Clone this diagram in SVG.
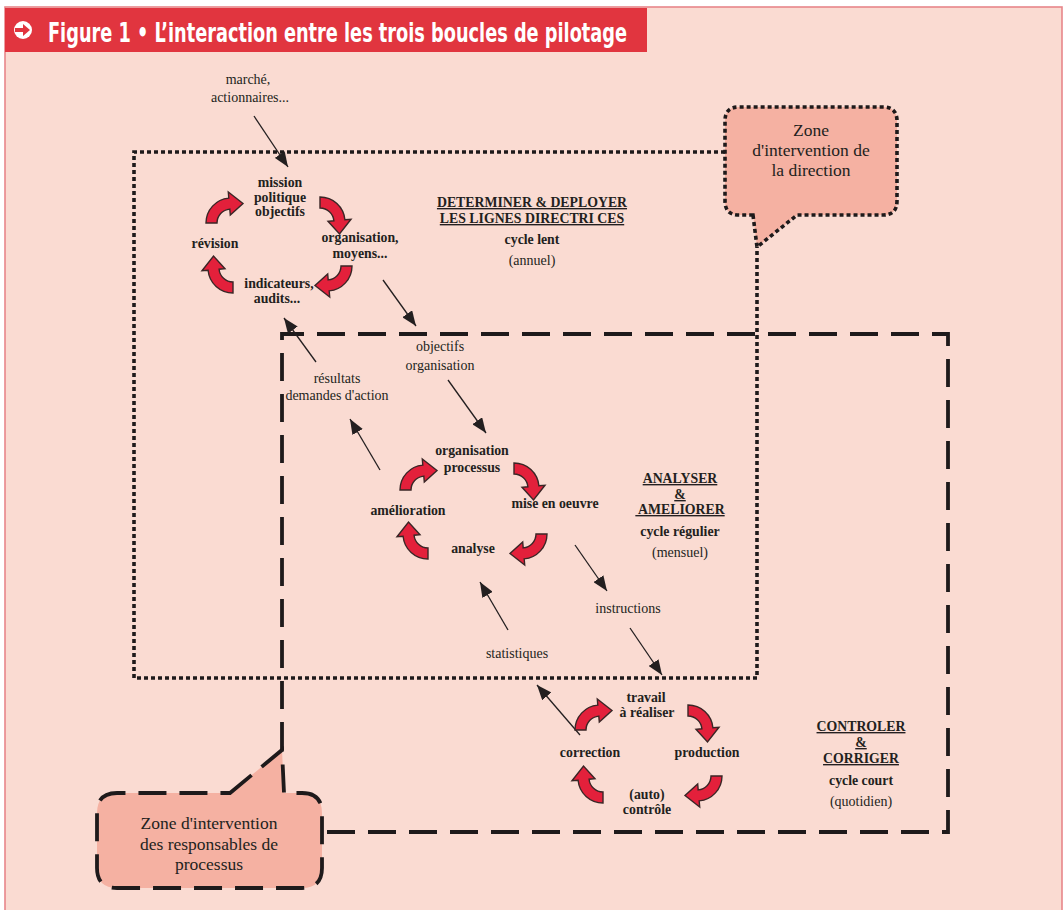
<svg xmlns="http://www.w3.org/2000/svg" xmlns:xlink="http://www.w3.org/1999/xlink" width="1064" height="910" viewBox="0 0 1064 910">
<defs>
<style>
.b{font-family:"Liberation Serif","Times New Roman",serif;font-weight:bold;font-size:13.8px;fill:#231f20;text-anchor:middle}
.r{font-family:"Liberation Serif","Times New Roman",serif;font-size:14px;fill:#231f20;text-anchor:middle}
.z{font-family:"Liberation Serif","Times New Roman",serif;font-size:17.5px;fill:#231f20;text-anchor:middle}
.u{text-decoration:underline}
.ln{stroke:#231f20;stroke-width:1.3;fill:none;marker-end:url(#ah)}
.cyc{fill:#e3203b;stroke:#3a2626;stroke-width:1.4;stroke-linejoin:miter}
.dot{fill:none;stroke:#1e1a1b;stroke-width:3.6;stroke-dasharray:4 3}
.dash{fill:none;stroke:#1e1a1b;stroke-width:3.8;stroke-dasharray:28 13}
.call{fill:#f5b1a2}
</style>
<marker id="ah" markerWidth="16" markerHeight="12" refX="15" refY="6" orient="auto" markerUnits="userSpaceOnUse">
<path d="M0,0 L15,6 L0,12 z" fill="#231f20"/>
</marker>
<path id="ca" d="M -25,0 A 25 25 0 0 1 -2.2,-24.9 L -2.7,-31 L 12,-19.5 L -0.7,-8 L -1.2,-13.9 A 14 14 0 0 0 -14,0 Z"/>
</defs>

<rect x="0" y="0" width="1064" height="910" fill="#ffffff"/>
<rect x="5" y="7" width="1057" height="910" fill="#fadbd2" stroke="#e8868a" stroke-width="1.6"/>

<g id="header">
<rect x="5" y="8" width="642" height="44" fill="#e1353f"/>
<circle cx="23" cy="30" r="9" fill="#ffffff"/>
<path d="M15,28 L23,28 L23,24 L30,30 L23,36 L23,32 L15,32 Z" fill="#e1353f"/>
<text x="48" y="42" font-family="'Liberation Sans Narrow','DejaVu Sans Condensed','Liberation Sans',sans-serif" font-weight="bold" font-size="27" fill="#ffffff" textLength="579" lengthAdjust="spacingAndGlyphs">Figure 1 • L’interaction entre les trois boucles de pilotage</text>
</g>

<g id="zones">
<path class="dot" d="M725,152 L134,152 L134,678 L757,678 L757,247"/>
<path class="dash" d="M282,750 L282,334 L948,334 L948,832 L322,832"/>
</g>

<g id="callout-direction">
<path class="call dot" style="fill:#f5b1a2" d="M753,215 L757,247 L797,215 L883,215 Q897,215 897,201 L897,121 Q897,107 883,107 L739,107 Q725,107 725,121 L725,201 Q725,215 739,215 Z"/>
<text class="z" x="811" y="136">Zone</text>
<text class="z" x="811" y="156">d'intervention de</text>
<text class="z" x="811" y="176">la direction</text>
</g>

<g id="callout-processus">
<path class="call dash" style="fill:#f5b1a2" d="M230,793 L282,750 L284,793 L302,793 Q322,793 322,813 L322,868 Q322,888 302,888 L117,888 Q97,888 97,868 L97,813 Q97,793 117,793 Z"/>
<text class="z" x="209" y="829">Zone d'intervention</text>
<text class="z" x="209" y="850">des responsables de</text>
<text class="z" x="209" y="870">processus</text>
</g>

<g id="connectors">
<line class="ln" x1="254" y1="116" x2="288" y2="167"/>
<line class="ln" x1="383" y1="280" x2="416" y2="326"/>
<line class="ln" x1="316" y1="362" x2="284" y2="318"/>
<line class="ln" x1="448" y1="380" x2="486" y2="433"/>
<line class="ln" x1="380" y1="470" x2="350" y2="419"/>
<line class="ln" x1="575" y1="545" x2="607" y2="591"/>
<line class="ln" x1="508" y1="630" x2="480" y2="582"/>
<line class="ln" x1="630" y1="628" x2="662" y2="675"/>
<line class="ln" x1="580" y1="735" x2="537" y2="685"/>
</g>

<g id="cycle-arrows">
<use class="cyc" href="#ca" xlink:href="#ca" transform="translate(231,223)"/>
<use class="cyc" href="#ca" xlink:href="#ca" transform="translate(320,222) rotate(90)"/>
<use class="cyc" href="#ca" xlink:href="#ca" transform="translate(327,266) rotate(180)"/>
<use class="cyc" href="#ca" xlink:href="#ca" transform="translate(233,268) rotate(270)"/>
<use class="cyc" href="#ca" xlink:href="#ca" transform="translate(425,490)"/>
<use class="cyc" href="#ca" xlink:href="#ca" transform="translate(514,488) rotate(90)"/>
<use class="cyc" href="#ca" xlink:href="#ca" transform="translate(522,534) rotate(180)"/>
<use class="cyc" href="#ca" xlink:href="#ca" transform="translate(428,534) rotate(270)"/>
<use class="cyc" href="#ca" xlink:href="#ca" transform="translate(600,730)"/>
<use class="cyc" href="#ca" xlink:href="#ca" transform="translate(688,730) rotate(90)"/>
<use class="cyc" href="#ca" xlink:href="#ca" transform="translate(697,776) rotate(180)"/>
<use class="cyc" href="#ca" xlink:href="#ca" transform="translate(603,778) rotate(270)"/>
</g>

<g id="annotations">
<text class="r" x="248" y="84">marché,</text>
<text class="r" x="250" y="102">actionnaires...</text>
<text class="r" x="440" y="351">objectifs</text>
<text class="r" x="440" y="370">organisation</text>
<text class="r" x="337" y="383">résultats</text>
<text class="r" x="337" y="400">demandes d'action</text>
<text class="r" x="628" y="613">instructions</text>
<text class="r" x="517" y="658">statistiques</text>
</g>

<g id="cycle-lent">
<text class="b" x="280" y="187">mission</text>
<text class="b" x="280" y="202">politique</text>
<text class="b" x="280" y="216">objectifs</text>
<text class="b" x="215" y="248">révision</text>
<text class="b" x="360" y="242">organisation,</text>
<text class="b" x="360" y="258">moyens...</text>
<text class="b" x="279" y="288">indicateurs,</text>
<text class="b" x="277" y="303">audits...</text>
<text class="b u" x="532" y="207">DETERMINER &amp; DEPLOYER</text>
<text class="b u" x="532" y="223">LES LIGNES DIRECTRI CES</text>
<text class="b" x="532" y="244">cycle lent</text>
<text class="r" x="532" y="265">(annuel)</text>
</g>

<g id="cycle-regulier">
<text class="b" x="472" y="455">organisation</text>
<text class="b" x="472" y="472">processus</text>
<text class="b" x="555" y="508">mise en oeuvre</text>
<text class="b" x="408" y="515">amélioration</text>
<text class="b" x="473" y="553">analyse</text>
<text class="b u" x="680" y="483">ANALYSER</text>
<text class="b u" x="680" y="499">&amp;</text>
<text class="b u" x="680" y="514" xml:space="preserve"> AMELIORER</text>
<text class="b" x="680" y="536">cycle régulier</text>
<text class="r" x="680" y="557">(mensuel)</text>
</g>

<g id="cycle-court">
<text class="b" x="646" y="702">travail</text>
<text class="b" x="647" y="717">à réaliser</text>
<text class="b" x="590" y="757">correction</text>
<text class="b" x="707" y="757">production</text>
<text class="b" x="647" y="799">(auto)</text>
<text class="b" x="647" y="814">contrôle</text>
<text class="b u" x="861" y="731">CONTROLER</text>
<text class="b u" x="861" y="747">&amp;</text>
<text class="b u" x="861" y="763">CORRIGER</text>
<text class="b" x="861" y="785">cycle court</text>
<text class="r" x="861" y="806">(quotidien)</text>
</g>
</svg>
